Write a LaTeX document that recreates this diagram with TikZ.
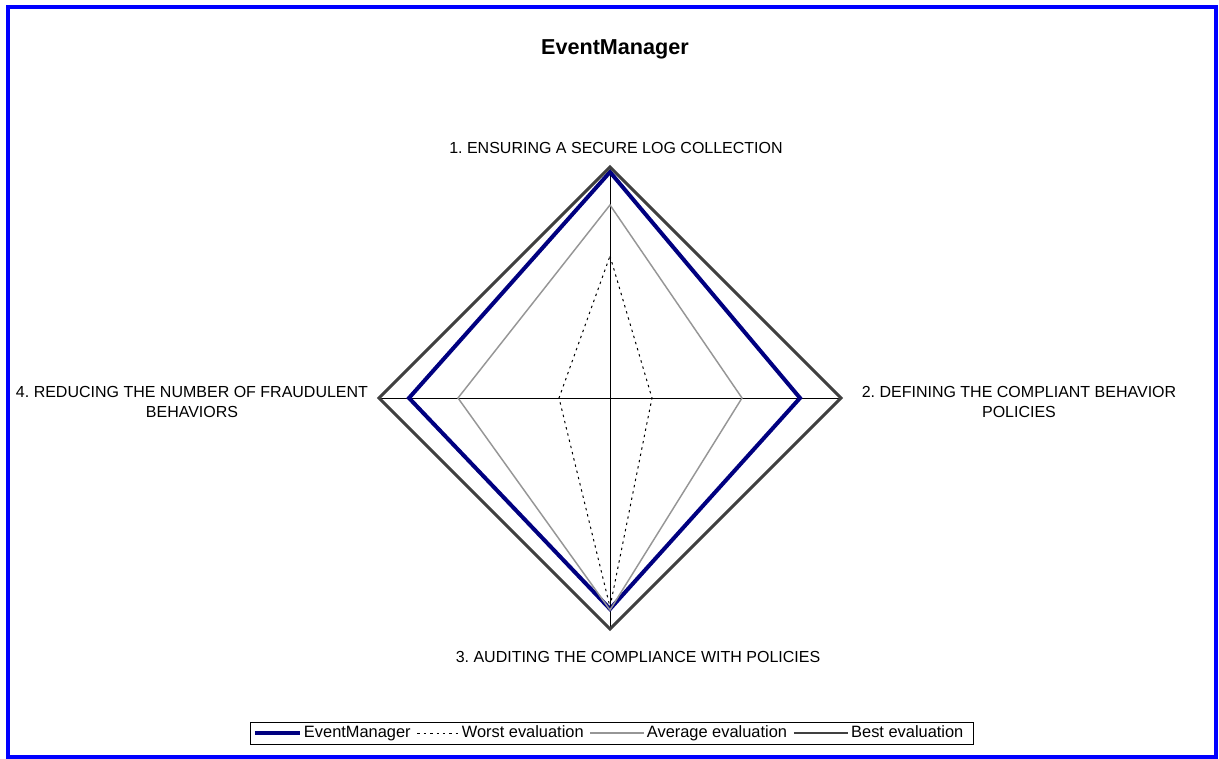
\documentclass[tikz,border=0pt]{standalone}
\usepackage{fontspec}
\setmainfont{Liberation Sans}
\usetikzlibrary{positioning}
\definecolor{navy}{RGB}{0,0,128}
\definecolor{avggray}{RGB}{150,150,150}
\definecolor{bestgray}{RGB}{64,64,64}
\definecolor{frameblue}{RGB}{0,0,255}
\frenchspacing

\begin{document}
\begin{tikzpicture}[x=0.75pt, y=0.75pt,
                    axis/.style = {draw=black, line width=0.75pt},
                    own/.style = {draw=navy, line width=3pt},
                    worst/.style = {draw=black, line width=0.75pt, dash pattern=on 1.8pt off 3pt},
                    average/.style = {draw=avggray, line width=1.1pt},
                    best/.style = {draw=bestgray, line width=2.2pt},
                    axlabel/.style = {font=\fontsize{12}{15}\selectfont, align=center, inner sep=0pt},
                    legtext/.style = {font=\fontsize{12.3}{14}\selectfont, inner xsep=1.5pt, inner ysep=0pt,
                                      text height=1.6ex, text depth=0.45ex, anchor=west}]
    \useasboundingbox (-610,-360) rectangle (609,398);
    \draw[frameblue, line width=3pt] (-602,-358.5) rectangle (605.5,391);

    \node[font=\bfseries\fontsize{16.2}{19}\selectfont] (title) at (5,349) {EventManager};

    % axes
    \coordinate (centre) at (0,0);
    \foreach \ang/\name in {90/top, 0/right, -90/bottom, 180/left}
        \coordinate (\name) at (\ang:231);
    \draw[axis] (top) -- (bottom);
    \draw[axis] (left) -- (right);

    % series
    \draw[own] (90:226) -- (0:190) -- (-90:211) -- (180:201) -- cycle;
    \draw[worst] (90:142) -- (0:42) -- (-90:209) -- (180:51) -- cycle;
    \draw[average] (90:193) -- (0:132) -- (-90:212) -- (180:152) -- cycle;
    \draw[best] (top) -- (right) -- (bottom) -- (left) -- cycle;

    \node[axlabel] (l1) at (6,250) {1. ENSURING A SECURE LOG COLLECTION};
    \node[axlabel] (l2) at (409,-4) {2. DEFINING THE COMPLIANT BEHAVIOR\\POLICIES};
    \node[axlabel] (l3) at (28,-259) {3. AUDITING THE COMPLIANCE WITH POLICIES};
    \node[axlabel] (l4) at (-418,-4) {4. REDUCING THE NUMBER OF FRAUDULENT\\BEHAVIORS};

    % legend
    \draw[line width=0.75pt] (-359,-324) rectangle (363,-346);
    \draw[own] (-355,-335) -- ++(45,0) node[legtext] (lem) {EventManager};
    \draw[worst] ([xshift=2pt]lem.east) -- ++(42,0) node[legtext] (lworst) {Worst evaluation};
    \draw[average] ([xshift=3pt]lworst.east) -- ++(54,0) node[legtext] (laverage) {Average evaluation};
    \draw[best] ([xshift=3pt]laverage.east) -- ++(54,0) node[legtext] (lbest) {Best evaluation};
\end{tikzpicture}
\end{document}
